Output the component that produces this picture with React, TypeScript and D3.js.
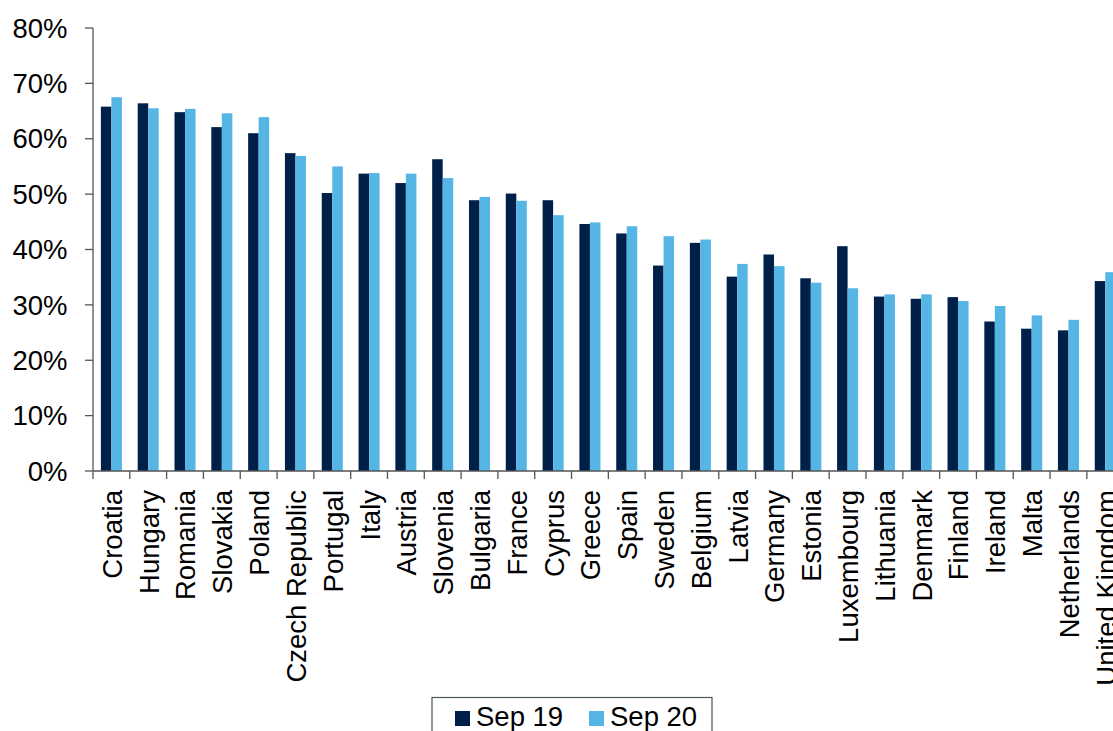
import React from "react";
import * as d3 from "d3";

const countries = [
  "Croatia", "Hungary", "Romania", "Slovakia", "Poland", "Czech Republic", "Portugal",
  "Italy", "Austria", "Slovenia", "Bulgaria", "France", "Cyprus", "Greece", "Spain",
  "Sweden", "Belgium", "Latvia", "Germany", "Estonia", "Luxembourg", "Lithuania",
  "Denmark", "Finland", "Ireland", "Malta", "Netherlands", "United Kingdom",
];
const sep19 = [
  65.8, 66.4, 64.8, 62.1, 61.0, 57.4, 50.2, 53.7, 52.0, 56.3, 48.9, 50.1, 48.9, 44.6,
  42.9, 37.1, 41.2, 35.1, 39.1, 34.8, 40.6, 31.5, 31.1, 31.4, 27.0, 25.7, 25.4, 34.3,
];
const sep20 = [
  67.5, 65.5, 65.4, 64.6, 63.9, 56.9, 55.0, 53.8, 53.7, 52.9, 49.5, 48.8, 46.2, 44.9,
  44.2, 42.4, 41.8, 37.4, 37.0, 34.0, 33.0, 31.9, 31.9, 30.7, 29.8, 28.1, 27.3, 35.9,
];
const seriesNames = ["Sep 19", "Sep 20"];
const seriesColors = ["#00204A", "#55B5E5"];
const yTicks = [0, 10, 20, 30, 40, 50, 60, 70, 80];

const W = 1113;
const H = 731;
const FONT = "'Liberation Sans', Arial, sans-serif";
const FS = 27.5;

export default function App() {
  const left = 93;
  const step = 36.81;
  const x = d3.scaleBand<string>().domain(countries).range([left, left + step * countries.length]).padding(0);
  const x1 = d3.scaleBand<string>().domain(seriesNames).range([0, x.bandwidth()]).paddingInner(0).paddingOuter(0.75);
  const y = d3.scaleLinear().domain([0, 80]).range([471, 28]);
  const values = [sep19, sep20];
  const axisColor = "#555";

  return (
    <div style={{ position: "fixed", left: 0, top: 0, width: W, height: H, overflow: "hidden", background: "#fff" }}>
      <style>{`body{margin:0;overflow:hidden}`}</style>
      <svg width={W} height={H} style={{ display: "block" }} fontFamily={FONT}>
        {countries.map((c, i) => (
          <g key={c} transform={`translate(${x(c)},0)`}>
            {values.map((vals, s) => (
              <rect
                key={s}
                x={x1(seriesNames[s])}
                y={y(vals[i])}
                width={x1.bandwidth()}
                height={y(0) - y(vals[i])}
                fill={seriesColors[s]}
              />
            ))}
          </g>
        ))}
        <line x1={left} x2={left} y1={y(80)} y2={y(0)} stroke={axisColor} strokeWidth={1.3} />
        {yTicks.map((t) => (
          <g key={t}>
            <line x1={left - 8} x2={left} y1={y(t)} y2={y(t)} stroke={axisColor} strokeWidth={1.3} />
            <text x={67.5} y={y(t)} dy="0.35em" textAnchor="end" fontSize={FS} fill="#000">
              {d3.format(".0%")(t / 100)}
            </text>
          </g>
        ))}
        <line x1={left} x2={left + step * countries.length} y1={y(0)} y2={y(0)} stroke={axisColor} strokeWidth={1.3} />
        {countries.map((c) => (
          <line key={"t" + c} x1={x(c)} x2={x(c)} y1={y(0)} y2={y(0) + 8} stroke={axisColor} strokeWidth={1.3} />
        ))}
        {countries.map((c) => (
          <text
            key={"l" + c}
            transform={`translate(${(x(c) as number) + x.bandwidth() / 2},490) rotate(-90)`}
            dy="0.38em"
            textAnchor="end"
            fontSize={FS}
            fill="#000"
          >
            {c}
          </text>
        ))}
        <rect x={432} y={697.5} width={280} height={60} fill="#fff" stroke="#4a5753" strokeWidth={1.2} />
        {seriesNames.map((s, i) => {
          const lx = i === 0 ? 455 : 589;
          return (
            <g key={s}>
              <rect x={lx} y={711} width={15} height={15} fill={seriesColors[i]} />
              <text x={lx + 21} y={726} fontSize={FS} fill="#000">
                {s}
              </text>
            </g>
          );
        })}
      </svg>
    </div>
  );
}
